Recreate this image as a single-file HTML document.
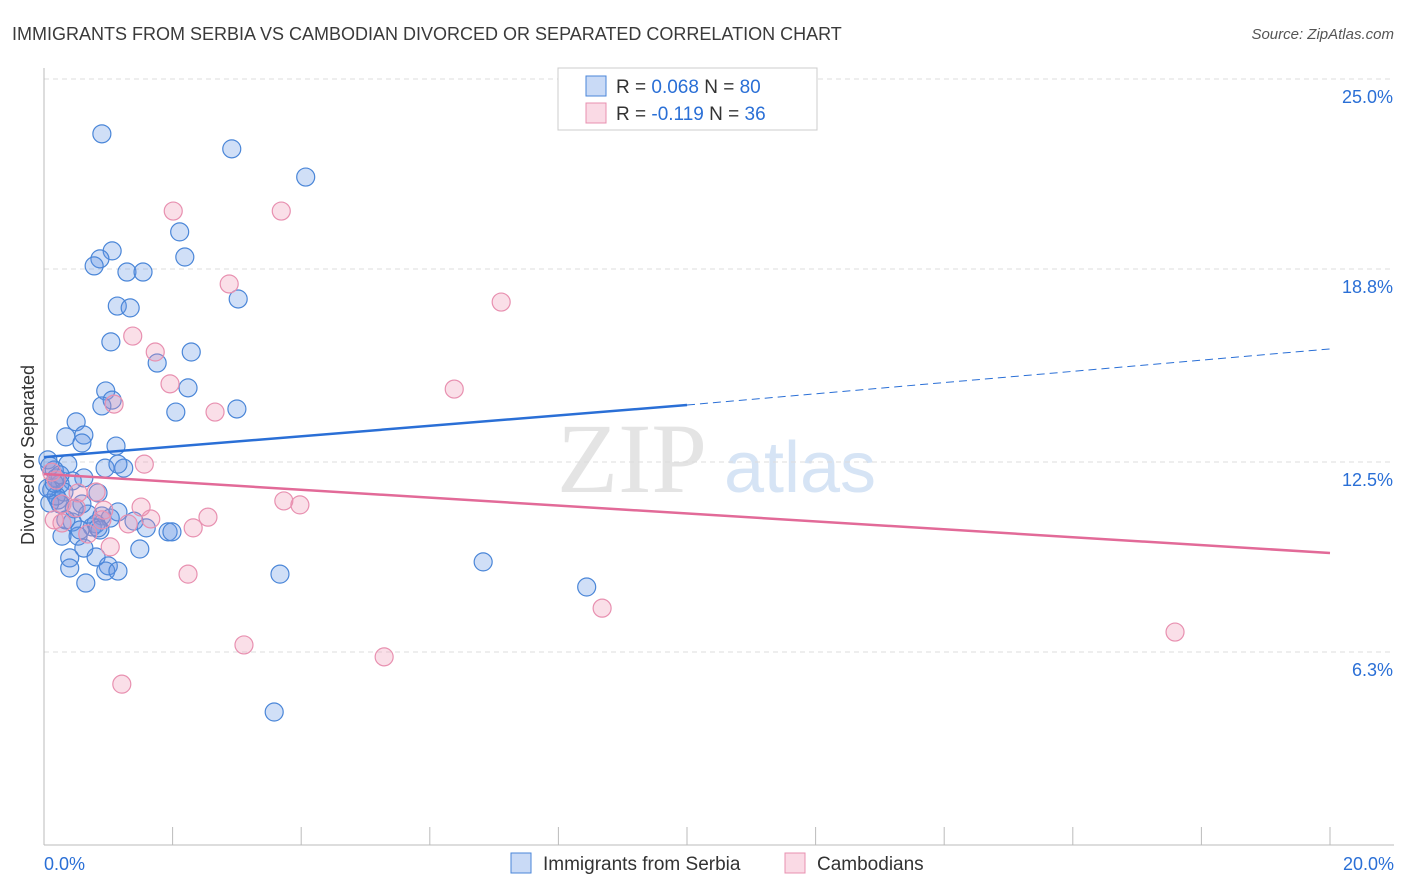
<!DOCTYPE html>
<html><head><meta charset="utf-8"><style>
body{margin:0;background:#fff;font-family:"Liberation Sans",sans-serif;}
svg{display:block}
</style></head><body>
<svg id="chart" width="1406" height="892" xmlns="http://www.w3.org/2000/svg">
<text x="12" y="40" font-size="18" fill="#3a3a3a">IMMIGRANTS FROM SERBIA VS CAMBODIAN DIVORCED OR SEPARATED CORRELATION CHART</text>
<text x="1394" y="39" font-size="15" fill="#555" font-style="italic" text-anchor="end">Source: ZipAtlas.com</text>
<g>
<text x="632" y="492" font-size="100" fill="#e4e4e4" font-family="Liberation Serif,serif" text-anchor="middle">ZIP</text>
<text x="800" y="492" font-size="72" fill="#d6e4f5" text-anchor="middle">atlas</text>
</g>
<g id="grid"></g>
<g id="axes"></g>
<g id="marks"></g>
<text transform="translate(34,455) rotate(-90)" font-size="18" fill="#333" text-anchor="middle">Divorced or Separated</text>
<g>
<rect x="558" y="68" width="259" height="62" fill="#fff" stroke="#ccc"/>
<rect x="586" y="76" width="20" height="20" fill="rgba(100,150,230,0.35)" stroke="#4a86d8"/>
<text x="616" y="93" font-size="19" fill="#333">R = <tspan fill="#2a6fd6">0.068</tspan>   N = <tspan fill="#2a6fd6">80</tspan></text>
<rect x="586" y="103" width="20" height="20" fill="rgba(240,150,180,0.35)" stroke="#e890b0"/>
<text x="616" y="120" font-size="19" fill="#333">R = <tspan fill="#2a6fd6">-0.119</tspan>   N = <tspan fill="#2a6fd6">36</tspan></text>
</g>
<g>
<rect x="511" y="853" width="20" height="20" fill="rgba(100,150,230,0.35)" stroke="#4a86d8"/>
<text x="543" y="870" font-size="19" fill="#333">Immigrants from Serbia</text>
<rect x="785" y="853" width="20" height="20" fill="rgba(240,150,180,0.35)" stroke="#e890b0"/>
<text x="817" y="870" font-size="19" fill="#333">Cambodians</text>
</g>
</svg>
<script>
const yTicks=[25.0,18.8,12.5,6.3];
const yTickLabels=["25.0%","18.8%","12.5%","6.3%"];
const xTickLabels=["0.0%","20.0%"];
const serbiaX=[0.90,2.92,4.07,2.11,2.19,1.06,0.87,0.78,1.29,1.54,3.02,1.14,1.34,1.04,2.29,1.76,0.96,2.24,1.06,0.90,2.05,3.00,0.50,0.34,0.62,0.59,1.12,0.37,0.95,1.24,1.15,0.06,0.16,0.19,0.62,0.44,0.25,0.12,0.31,0.84,0.22,0.09,0.25,0.47,0.68,1.15,0.90,0.81,0.75,0.44,1.40,1.59,1.93,1.99,0.53,0.28,0.62,1.49,0.81,0.40,1.00,0.40,0.96,1.15,0.65,3.67,6.83,8.44,3.58,0.09,0.19,1.03,0.87,0.59,0.34,0.25,0.06,0.56,0.84,0.16];
const serbiaY=[23.21,22.72,21.80,20.01,19.19,19.39,19.13,18.90,18.70,18.70,17.82,17.59,17.53,16.42,16.09,15.73,14.82,14.92,14.52,14.33,14.13,14.23,13.81,13.32,13.38,13.12,13.02,12.43,12.30,12.30,12.43,12.57,12.24,11.98,11.98,11.88,11.78,11.59,11.52,11.49,11.26,11.16,11.13,10.97,10.80,10.87,10.74,10.48,10.38,10.54,10.57,10.35,10.22,10.22,10.08,10.08,9.69,9.66,9.40,9.37,9.11,9.04,8.94,8.94,8.55,8.84,9.24,8.42,4.34,12.37,11.39,10.67,10.28,11.13,10.61,12.08,11.65,10.28,10.35,11.81];
const cambX=[2.01,3.69,2.88,7.11,1.38,1.73,1.96,6.38,1.09,2.66,1.56,0.12,0.19,0.53,0.81,3.73,3.98,1.51,0.16,0.28,0.50,0.90,1.31,1.66,2.55,2.32,0.68,1.03,2.24,8.68,17.59,3.11,5.29,1.21,0.93,0.28];
const cambY=[20.69,20.69,18.31,17.72,16.61,16.09,15.05,14.88,14.39,14.13,12.43,12.17,11.91,11.49,11.52,11.23,11.10,11.03,10.61,10.51,11.00,10.61,10.48,10.64,10.70,10.35,10.15,9.73,8.84,7.73,6.95,6.53,6.14,5.25,10.93,11.13];
const serbiaTrend=[12.66,14.36,16.19]; // at x=0,10,20
const cambTrend=[12.11,9.53]; // at x=0,20
const NS="http://www.w3.org/2000/svg";
const X=v=>44+v*64.3;
const Y=v=>462-(v-12.5)*30.64;
function mk(tag,attrs,parent){const e=document.createElementNS(NS,tag);for(const k in attrs)e.setAttribute(k,attrs[k]);parent.appendChild(e);return e;}
const grid=document.getElementById('grid'),axes=document.getElementById('axes'),marks=document.getElementById('marks');
yTicks.forEach((t,i)=>{
 const l=mk('line',{x1:44,x2:1394,y1:Y(t),y2:Y(t),stroke:'#ddd','stroke-dasharray':'5,4'},grid);
 
 
 const tx=mk('text',{x:1393,y:Y(t)+24,'font-size':18,fill:'#2a6fd6','text-anchor':'end'},axes);
 tx.textContent=yTickLabels[i];
 
 
});
const xa=mk('line',{x1:44,x2:1394,y1:Y(0),y2:Y(0),stroke:'#bbb'},axes);


const ya=mk('line',{x1:44,x2:44,y1:68,y2:Y(0),stroke:'#bbb'},axes);


for(let i=0;i<=10;i++){
 const t=mk('line',{x1:X(i*2),x2:X(i*2),y1:Y(0)-18,y2:Y(0),stroke:'#bbb'},axes);
 
 
}
[[0,'start',44],[20,'end',1394]].forEach((a,i)=>{
 const tx=mk('text',{x:a[2],y:870,'font-size':18,fill:'#2a6fd6','text-anchor':a[1]},axes);
 tx.textContent=xTickLabels[i];
 
 
});
serbiaX.forEach((x,i)=>{
 const c=mk('circle',{cx:X(x),cy:Y(serbiaY[i]),r:9,fill:'rgba(100,150,230,0.3)',stroke:'#4a86d8','stroke-width':1.2},marks);
 
 
});
cambX.forEach((x,i)=>{
 const c=mk('circle',{cx:X(x),cy:Y(cambY[i]),r:9,fill:'rgba(240,150,180,0.3)',stroke:'#e890b0','stroke-width':1.2},marks);
 
 
});
const t1=mk('line',{x1:X(0),y1:Y(serbiaTrend[0]),x2:X(10),y2:Y(serbiaTrend[1]),stroke:'#2a6fd6','stroke-width':2.5},marks);


const t2=mk('line',{x1:X(10),y1:Y(serbiaTrend[1]),x2:X(20),y2:Y(serbiaTrend[2]),stroke:'#2a6fd6','stroke-width':1,'stroke-dasharray':'8,5'},marks);


const t3=mk('line',{x1:X(0),y1:Y(cambTrend[0]),x2:X(20),y2:Y(cambTrend[1]),stroke:'#e26a98','stroke-width':2.5},marks);


</script>
</body></html>
